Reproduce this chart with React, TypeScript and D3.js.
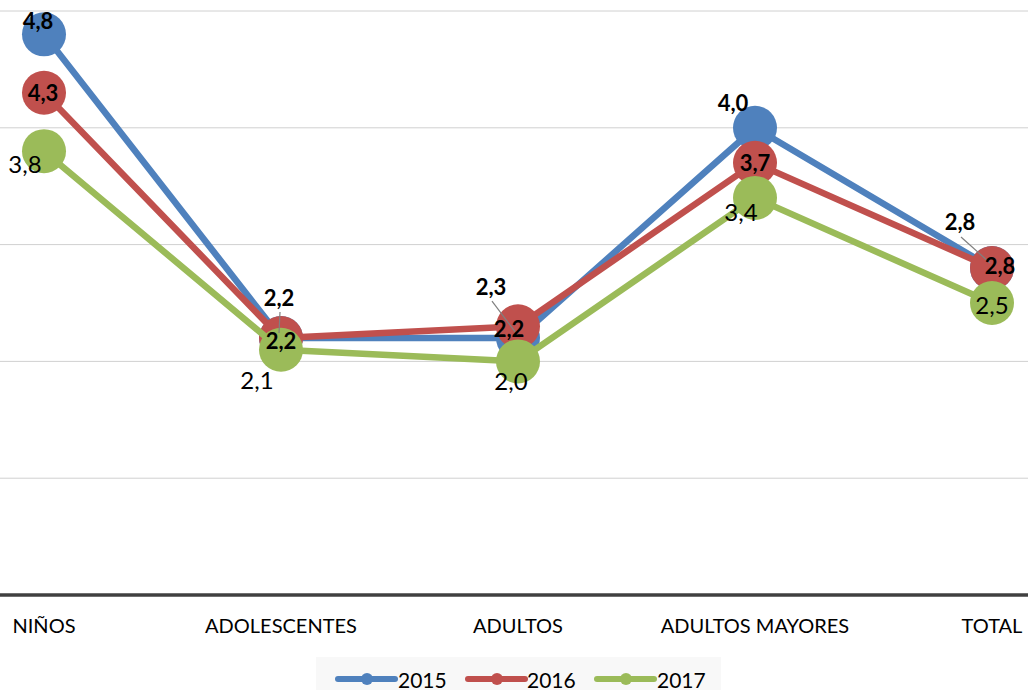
import React from "react";
import * as d3 from "d3";

const categories = ["NIÑOS", "ADOLESCENTES", "ADULTOS", "ADULTOS MAYORES", "TOTAL"];
const seriesNames = ["2015", "2016", "2017"];
const values2015 = [4.8, 2.2, 2.2, 4.0, 2.8];
const values2016 = [4.3, 2.2, 2.3, 3.7, 2.8];
const values2017 = [3.8, 2.1, 2.0, 3.4, 2.5];
const labels2015 = ["4,8", "2,2", "2,3", "4,0", "2,8"];
const labels2016 = ["4,3", "2,2", "2,2", "3,7", "2,8"];
const labels2017 = ["3,8", "2,1", "2,0", "3,4", "2,5"];
const yTicks = [1, 2, 3, 4, 5];

const W = 1028;
const H = 690;
const colors = ["#4f81bd", "#c0504d", "#9bbb59"];
const FONT = "Lato, 'Open Sans', sans-serif";

// label offsets (dx, dy) relative to point, plus optional leader line
const labelLayout = [
  [
    { dx: -6, dy: -14 },
    { dx: -2, dy: -41, leader: true },
    { dx: -27, dy: -52, leader: true },
    { dx: -22, dy: -25 },
    { dx: -32, dy: -46, leader: true },
  ],
  [
    { dx: -1, dy: 0 },
    { dx: 0, dy: 2 },
    { dx: -9, dy: 2 },
    { dx: 0, dy: 0 },
    { dx: 8, dy: -2 },
  ],
  [
    { dx: -19, dy: 12 },
    { dx: -24, dy: 30 },
    { dx: -7, dy: 19 },
    { dx: -14, dy: 14 },
    { dx: 0, dy: 1 },
  ],
];

export default function App() {
  const x = d3.scalePoint<string>().domain(categories).range([44, 992]);
  const y = d3.scaleLinear().domain([0, 5]).range([595, 11]);
  const series = [values2015, values2016, values2017];
  const labels = [labels2015, labels2016, labels2017];
  const line = d3
    .line<number>()
    .x((_, i) => x(categories[i]) as number)
    .y((d) => y(d));

  const legendItems = [
    { x0: 338, tx: 398 },
    { x0: 468, tx: 527 },
    { x0: 597, tx: 657 },
  ];

  return (
    <div style={{ position: "absolute", left: 0, top: 0 }}>
      <svg width={W} height={H} style={{ display: "block", fontFamily: FONT }}>
        <rect x={0} y={0} width={W} height={H} fill="#fff" />
        {yTicks.map((t) => (
          <line key={t} x1={0} x2={W} y1={y(t)} y2={y(t)} stroke="#d0d0d0" strokeWidth={1} />
        ))}
        <line x1={0} x2={W} y1={y(0)} y2={y(0)} stroke="#404040" strokeWidth={3.5} />
        {categories.map((c) => (
          <text key={c} x={x(c)} y={633} textAnchor="middle" fontSize={20} fill="#000">
            {c}
          </text>
        ))}
        {series.map((vals, si) => (
          <g key={si}>
            <path d={line(vals) || ""} fill="none" stroke={colors[si]} strokeWidth={6.5} strokeLinejoin="round" />
            {vals.map((v, i) => (
              <circle key={i} cx={x(categories[i])} cy={y(v)} r={22} fill={colors[si]} />
            ))}
          </g>
        ))}
        {series.map((vals, si) =>
          vals.map((v, i) => {
            const px = x(categories[i]) as number;
            const py = y(v);
            const lay = labelLayout[si][i] as { dx: number; dy: number; leader?: boolean };
            const lx = px + lay.dx;
            const ly = py + lay.dy;
            return (
              <g key={`${si}-${i}`}>
                {lay.leader && (
                  <line x1={lx + 1} y1={ly + 15} x2={px - 2} y2={py - 5} stroke="#808080" strokeWidth={1.2} />
                )}
                <text
                  x={lx}
                  y={ly}
                  textAnchor="middle"
                  dominantBaseline="central"
                  fontSize={si < 2 ? 22 : 24}
                  fontWeight={si < 2 ? 700 : 400}
                  fill="#000"
                >
                  {labels[si][i]}
                </text>
              </g>
            );
          })
        )}
        <rect x={316} y={657} width={405} height={34} fill="#f8f8f8" />
        {legendItems.map((it, si) => (
          <g key={si}>
            <line x1={it.x0} x2={it.x0 + 57} y1={679} y2={679} stroke={colors[si]} strokeWidth={6} strokeLinecap="round" />
            <circle cx={it.x0 + 29} cy={679} r={6} fill={colors[si]} />
            <text x={it.tx} y={679} dominantBaseline="central" fontSize={21} fill="#000">
              {seriesNames[si]}
            </text>
          </g>
        ))}
      </svg>
    </div>
  );
}
